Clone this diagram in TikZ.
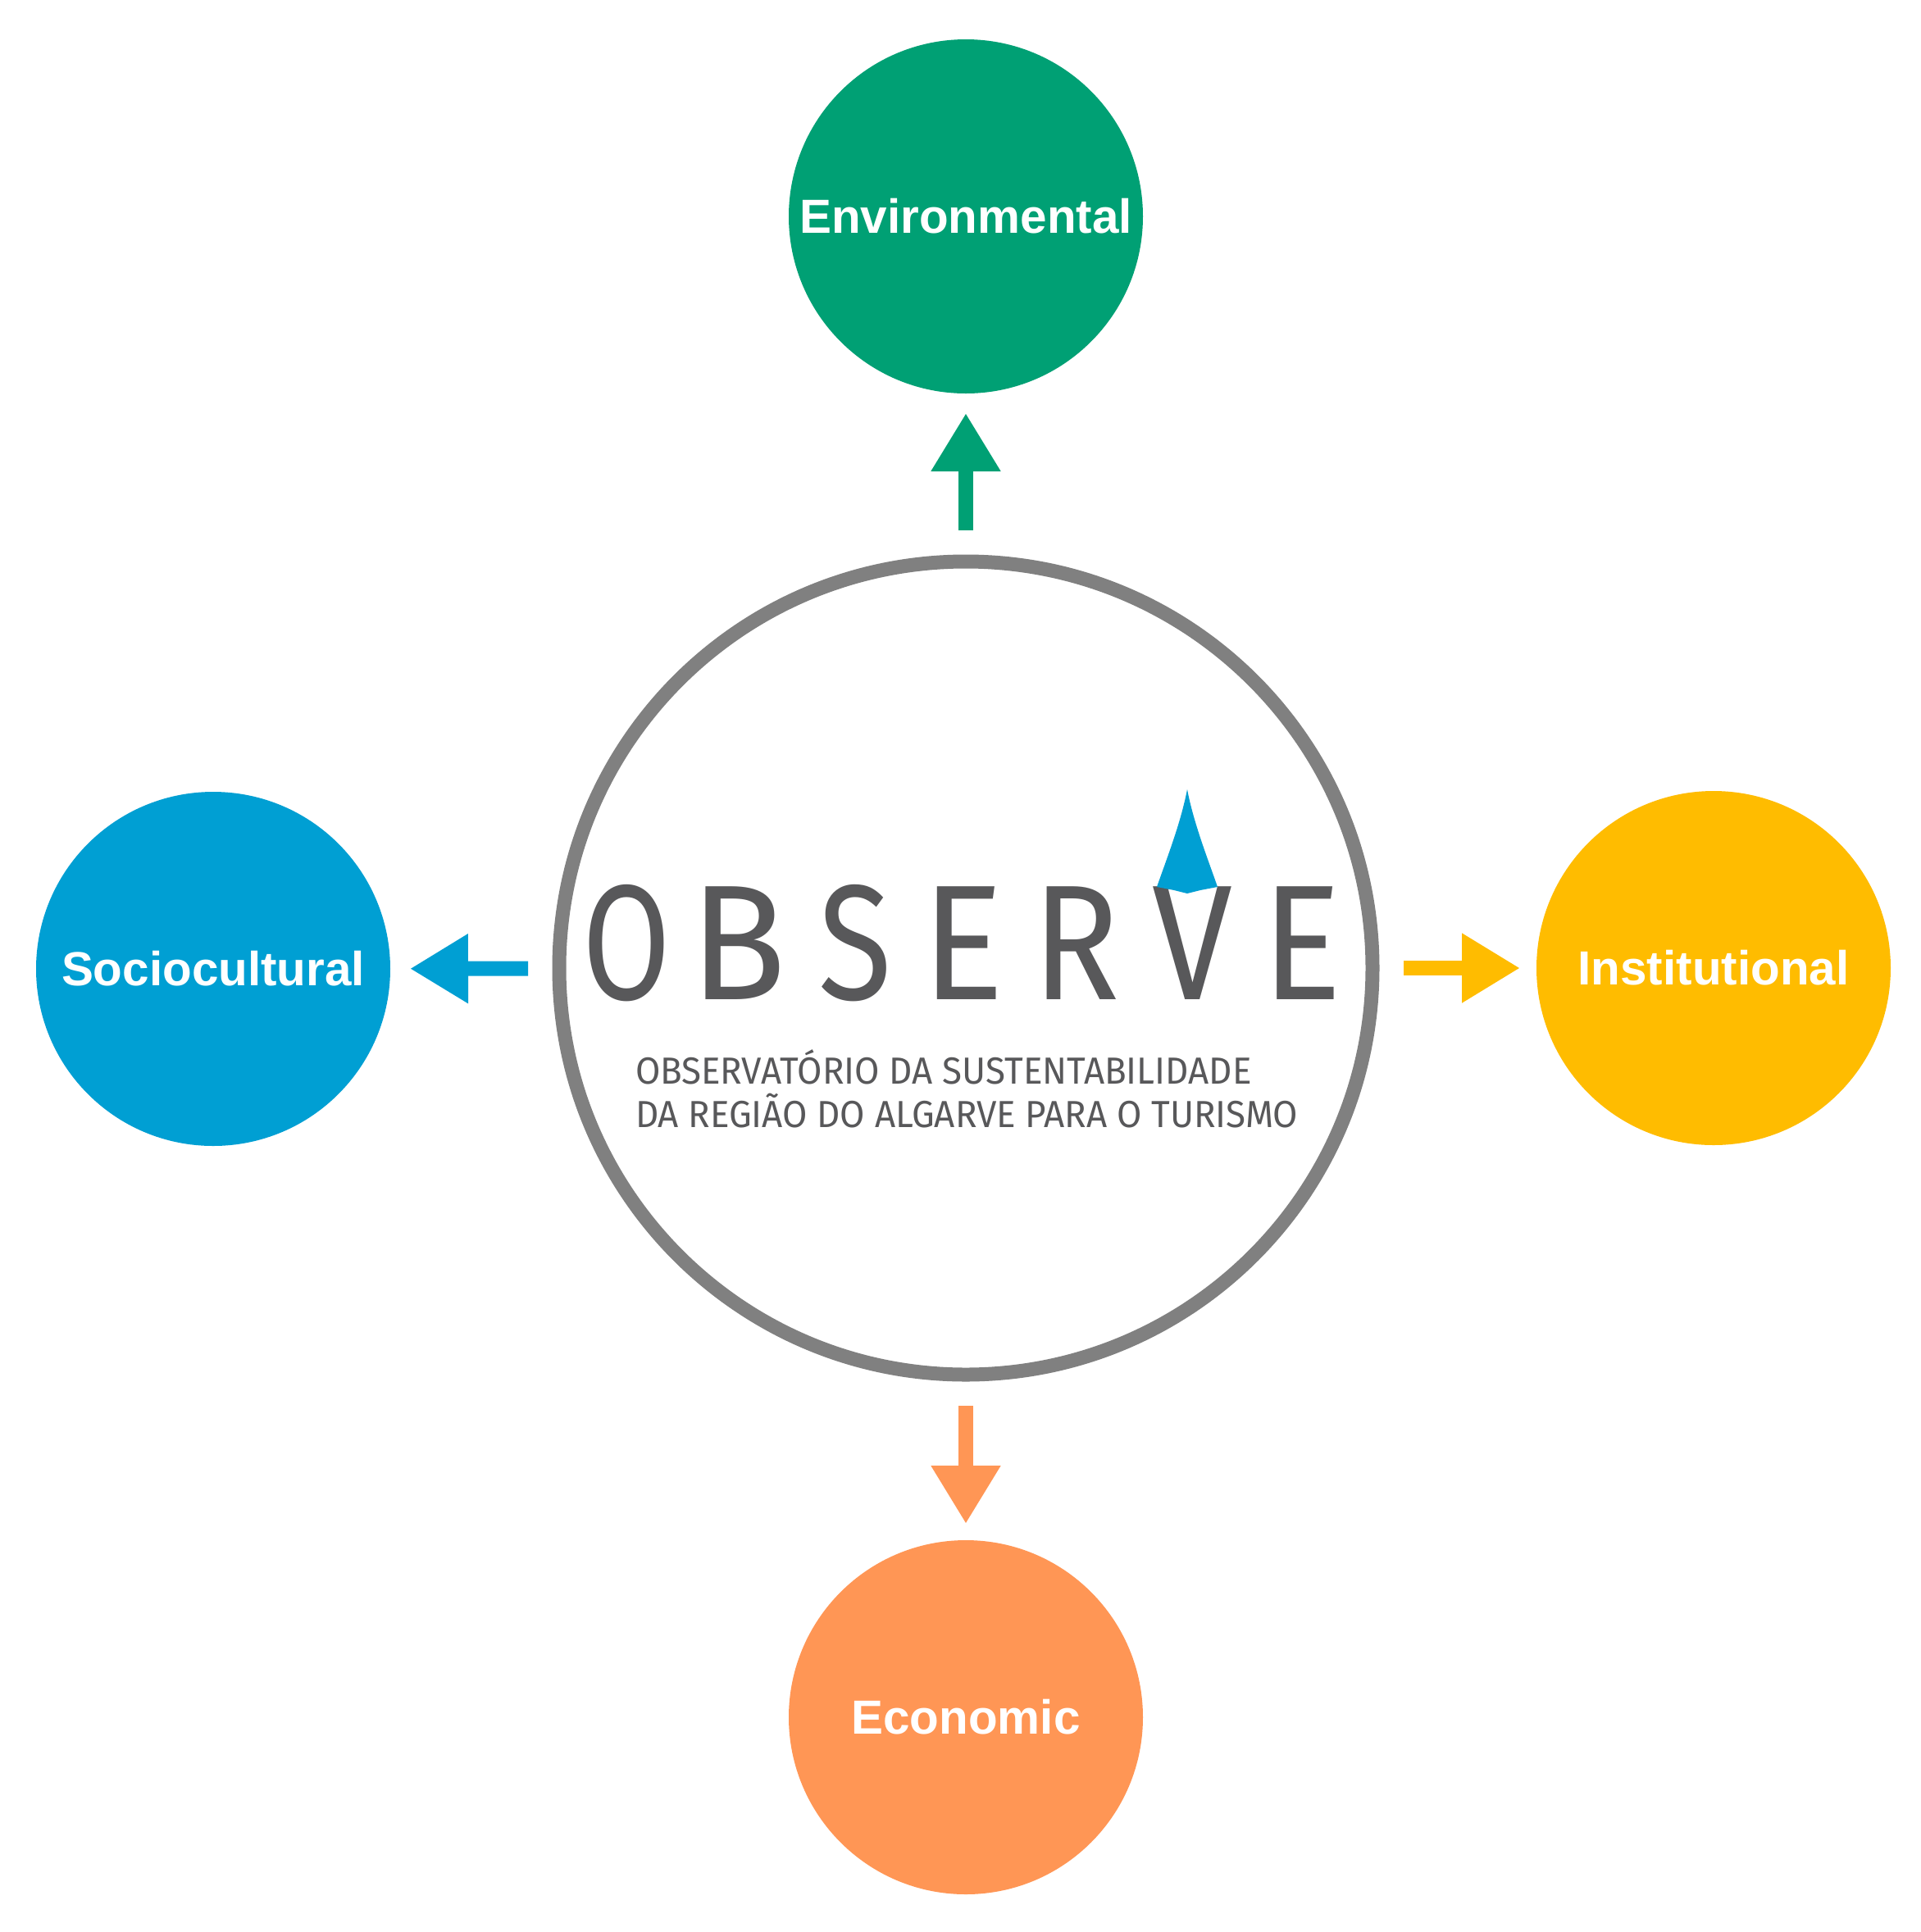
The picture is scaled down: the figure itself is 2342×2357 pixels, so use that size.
\documentclass[tikz,border=0pt]{standalone}
\usepackage{fontspec}
\usepackage{graphicx}
\usetikzlibrary{arrows.meta}
\setmainfont{Liberation Sans}
\newfontfamily\logofont{Fira Sans}
\newfontfamily\capfont{Fira Sans}
\definecolor{cgreen}{HTML}{00A074}
\definecolor{cblue}{HTML}{009FD3}
\definecolor{cyellow}{HTML}{FFBC00}
\definecolor{corange}{HTML}{FF9655}
\definecolor{cring}{HTML}{808080}
\definecolor{clogo}{HTML}{58585A}
\tikzset{
  pillar/.style={circle,minimum size=216pt,inner sep=0pt,outer sep=0pt,text=white,font=\bfseries\fontsize{29.2}{32}\selectfont},
  hub/.style={circle,draw=cring,line width=8.5pt,fill=white,minimum size=496pt,inner sep=0pt,outer sep=0pt},
  link/.style={line width=9pt,-{Triangle[length=35.5pt,width=40pt]}},
  logochar/.style={inner sep=0pt,outer sep=0pt,text=clogo,anchor=base west},
  capline/.style={inner sep=0pt,outer sep=0pt,text=clogo,anchor=base west}
}
\begin{document}
\begin{tikzpicture}[x=0.5pt,y=-0.5pt]
\useasboundingbox[fill=white] (0,0) rectangle (2342,2357);
\node[hub] (hub) at (1178,1181) {};
\node[pillar,fill=cgreen] (env) at (1178,264) {Environmental};
\node[pillar,fill=cblue] (soc) at (260,1182) {Sociocultural};
\node[pillar,fill=cyellow] (ins) at (2090,1181) {Institutional};
\node[pillar,fill=corange] (eco) at (1178,2095) {Economic};
\draw[link,cgreen,shorten <=19pt,shorten >=12pt] (hub) -- (env);
\draw[link,cblue,shorten <=19pt,shorten >=12pt] (hub) -- (soc);
\draw[link,cyellow,shorten <=19pt,shorten >=10pt] (hub) -- (ins);
\draw[link,corange,shorten <=19pt,shorten >=10pt] (hub) -- (eco);
% logo
\node[logochar] (logo) at (710,1219) {\fontsize{100}{100}\selectfont\logofont
  \scalebox{0.78}[1]{O}\kern 12pt\scalebox{0.97}[1]{B}\kern 19.5pt\scalebox{0.82}[1]{S}\kern 18pt\scalebox{0.94}[1]{E}\kern 17.5pt\scalebox{0.88}[1]{R}\kern 19.5pt\scalebox{0.88}[1]{V}\kern 18pt\scalebox{0.91}[1]{E}};
\fill[cblue] (1448,963) .. controls (1440,1005) and (1422,1050) .. (1411,1082) -- (1432,1086) -- (1448,1090) -- (1464,1086) -- (1485,1082) .. controls (1474,1050) and (1456,1005) .. (1448,963) -- cycle;
\node[capline] (cap1) at (775,1322) {\fontsize{23}{23}\selectfont\capfont\scalebox{0.955}[1]{OBSERVATÓRIO DA SUSTENTABILIDADE}};
\node[capline] (cap2) at (775,1375) {\fontsize{23}{23}\selectfont\capfont\scalebox{0.955}[1]{DA REGIÃO DO ALGARVE PARA O TURISMO}};
\end{tikzpicture}
\end{document}
